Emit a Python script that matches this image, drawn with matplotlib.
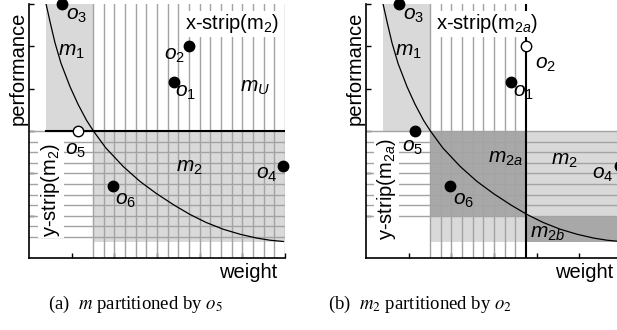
import matplotlib

matplotlib.use("Agg")

import matplotlib.pyplot as plt  # noqa: E402
import numpy as np  # noqa: E402

plt.rcParams.update(
    {
        "font.family": "Liberation Sans",
        "mathtext.fontset": "custom",
        "mathtext.rm": "Liberation Sans",
        "mathtext.it": "Liberation Sans:italic",
        "mathtext.sf": "Liberation Sans",
    }
)

# skyline curve (units = tick spacing)
curve_x = [0.40, 0.50, 0.61, 0.75, 0.96, 1.15, 1.35, 1.51, 1.80, 2.21, 2.60,
           2.99, 3.40, 3.77, 4.15, 4.55, 4.95, 5.34, 5.65, 5.96]
curve_y = [6.00, 5.55, 5.08, 4.60, 4.05, 3.63, 3.25, 3.00, 2.60, 2.16, 1.81,
           1.52, 1.25, 1.03, 0.84, 0.68, 0.56, 0.47, 0.42, 0.39]

# objects
point_names = ["o1", "o2", "o3", "o4", "o5", "o6"]
point_x = [3.39, 3.76, 0.78, 5.95, 1.14, 1.98]
point_y = [4.15, 5.00, 6.00, 2.18, 3.00, 1.69]

# label centres for the objects, per panel
label_x_a = [3.67, 3.40, 1.12, 5.56, 1.08, 2.27]
label_y_a = [3.91, 4.78, 5.74, 1.98, 2.55, 1.37]
label_x_b = [3.70, 4.20, 1.12, 5.54, 1.09, 2.28]
label_y_b = [3.91, 4.58, 5.74, 1.98, 2.61, 1.37]

hollow_a = "o5"
hollow_b = "o2"

# regions: (x0, x1, y0, y1, shade)
regions_a = [
    (0.40, 1.50, 3.00, 6.00, "light"),   # m1
    (1.50, 6.00, 0.37, 3.00, "light"),   # m2
]
regions_b = [
    (0.40, 1.50, 3.00, 6.00, "light"),   # m1
    (1.50, 3.76, 1.00, 3.00, "dark"),    # m2a
    (1.50, 3.76, 0.37, 1.00, "light"),
    (3.76, 6.00, 1.00, 3.00, "light"),   # m2
    (3.76, 6.00, 0.37, 1.00, "dark"),    # m2b
]

# strip hatching: (start, stop) of vertical / horizontal line families
strip_step = 0.25
vstrip_a = (1.50, 6.00)
hstrip_a = (0.50, 3.00)
vstrip_b = (1.50, 3.50)
hstrip_b = (1.00, 3.00)

# region names
names_a = [("$\\mathit{m_1}$", 1.00, 4.87), ("$\\mathit{m_U}$", 5.30, 4.03),
           ("$\\mathit{m_2}$", 3.77, 2.14)]
names_b = [("$\\mathit{m_1}$", 0.99, 4.87), ("$\\mathit{m_{2a}}$", 3.26, 2.34),
           ("$\\mathit{m_2}$", 4.66, 2.31), ("$\\mathit{m_{2b}}$", 4.25, 0.57)]

SHADE = {"light": "#d9d9d9", "dark": "#a8a8a8"}
LINE = "#a3a3a3"


def base_axes(ax):
    ax.set_xlim(0, 6)
    ax.set_ylim(0, 6)
    for s in ("top", "right"):
        ax.spines[s].set_visible(False)
    for s in ("left", "bottom"):
        ax.spines[s].set_linewidth(1.2)
        ax.spines[s].set_zorder(6)
    ax.set_xticks([1, 2, 3, 4, 5, 6])
    ax.set_yticks([1, 2, 3, 4, 5, 6])
    ax.tick_params(direction="in", length=3.5, width=1.0, labelleft=False,
                   labelbottom=False)
    ax.text(-0.26, 4.49, "performance", rotation=90, ha="center", va="center",
            fontsize=14.5, clip_on=False)


def draw_regions(ax, regions, vstrip, hstrip):
    for x0, x1, y0, y1, shade in regions:
        ax.fill_between([x0, x1], y0, y1, color=SHADE[shade], lw=0, zorder=1)
    for x in np.arange(vstrip[0], vstrip[1] + 1e-6, strip_step):
        ax.plot([x, x], [0, 6], color=LINE, lw=1.0, zorder=2)
    for y in np.arange(hstrip[0], hstrip[1] + 1e-6, strip_step):
        ax.plot([0, 6], [y, y], color=LINE, lw=1.0, zorder=2)


def draw_points(ax, hollow, lab_x, lab_y):
    ax.plot(curve_x, curve_y, color="black", lw=0.9, zorder=3)
    for name, x, y, lx, ly in zip(point_names, point_x, point_y, lab_x, lab_y):
        face = "white" if name == hollow else "black"
        ax.plot(x, y, "o", ms=7.5, mfc=face, mec="black", mew=1.0, zorder=5,
                clip_on=False)
        ax.text(lx, ly, "$\\mathit{%s_%s}$" % (name[0], name[1]), fontsize=15,
                ha="center", va="center", zorder=6)


def draw_names(ax, names):
    for txt, x, y in names:
        ax.text(x, y, txt, fontsize=15, ha="center", va="center", zorder=6)


box = dict(facecolor="white", edgecolor="none", pad=1.0)

fig = plt.figure(figsize=(6.17, 3.30), dpi=100)
ax_a = fig.add_axes([29 / 617, 72 / 330, 256 / 617, 254 / 330])
ax_b = fig.add_axes([366 / 617, 72 / 330, 256 / 617, 254 / 330])

# (a) m partitioned by o5
base_axes(ax_a)
draw_regions(ax_a, regions_a, vstrip_a, hstrip_a)
ax_a.plot([0.40, 6.0], [3.0, 3.0], color="black", lw=1.5, zorder=3)
draw_points(ax_a, hollow_a, label_x_a, label_y_a)
draw_names(ax_a, names_a)
ax_a.text(4.75, 5.53, "x-strip(m$_2$)", fontsize=14.5, ha="center", va="center",
          bbox=box, zorder=6)
ax_a.text(0.51, 1.61, "y-strip(m$_2$)", fontsize=14.5, rotation=90, ha="center",
          va="center", bbox=box, zorder=6)
ax_a.text(5.82, -0.35, "weight", fontsize=14.5, ha="right", va="center",
          clip_on=False)

# (b) m2 partitioned by o2
base_axes(ax_b)
draw_regions(ax_b, regions_b, vstrip_b, hstrip_b)
ax_b.plot([3.76, 3.76], [0.0, 6.0], color="black", lw=1.5, zorder=3)
draw_points(ax_b, hollow_b, label_x_b, label_y_b)
draw_names(ax_b, names_b)
ax_b.text(2.84, 5.53, "x-strip(m$_{2a}$)", fontsize=14.5, ha="center",
          va="center", bbox=box, zorder=6)
ax_b.text(0.48, 1.63, "y-strip(m$_{2a}$)", fontsize=14.5, rotation=90,
          ha="center", va="center", bbox=box, zorder=6)
ax_b.text(5.79, -0.35, "weight", fontsize=14.5, ha="right", va="center",
          clip_on=False)

# captions
fig.text(135 / 617, 0.076, "(a)  $m$ partitioned by $o_5$", fontsize=13.5,
         family="Liberation Serif", math_fontfamily="stix", ha="center",
         va="center")
fig.text(420 / 617, 0.076, "(b)  $m_2$ partitioned by $o_2$", fontsize=13.5,
         family="Liberation Serif", math_fontfamily="stix", ha="center",
         va="center")

fig.savefig("out.png", dpi=100)
plt.close(fig)
